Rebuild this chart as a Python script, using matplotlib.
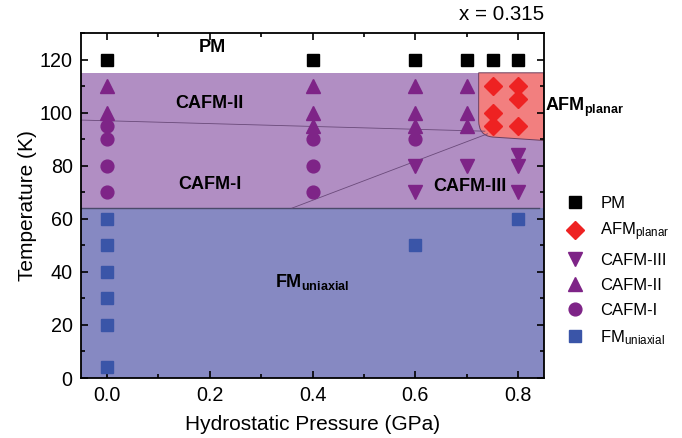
import matplotlib
matplotlib.use("Agg")
import matplotlib.pyplot as plt
from matplotlib.path import Path
from matplotlib.patches import PathPatch
from matplotlib.ticker import MultipleLocator

plt.rcParams['font.family'] = ['Liberation Sans', 'DejaVu Sans']
plt.rcParams['mathtext.fontset'] = 'custom'
plt.rcParams['mathtext.rm'] = 'Liberation Sans'
plt.rcParams['mathtext.bf'] = 'Liberation Sans:bold'
plt.rcParams['mathtext.it'] = 'Liberation Sans:italic'

# ---- data ----
pm_p = [0.0, 0.4, 0.6, 0.7, 0.75, 0.8]
pm_t = [120, 120, 120, 120, 120, 120]

afm_p = [0.75, 0.75, 0.75, 0.8, 0.8, 0.8]
afm_t = [110, 100, 95, 110, 105, 95]

cafm3_p = [0.6, 0.6, 0.7, 0.8, 0.8, 0.8]
cafm3_t = [80, 70, 80, 84, 80, 70]

cafm2_p = [0.0, 0.0, 0.4, 0.4, 0.4, 0.6, 0.6, 0.6, 0.7, 0.7, 0.7]
cafm2_t = [110, 100, 110, 100, 95, 110, 100, 95, 110, 100, 95]

cafm1_p = [0.0, 0.0, 0.0, 0.0, 0.4, 0.4, 0.4, 0.6]
cafm1_t = [95, 90, 80, 70, 90, 80, 70, 90]

fm_p = [0.0, 0.0, 0.0, 0.0, 0.0, 0.0, 0.6, 0.8]
fm_t = [60, 50, 40, 30, 20, 4, 50, 60]

# phase boundaries (temperatures in K, pressures in GPa)
t_pm_boundary = 115
t_fm_boundary = 64
line_12_p = [-0.05, 0.735]
line_12_t = [97.2, 93.0]
line_13_p = [0.36, 0.74]
line_13_t = [64, 92]
afm_region_p = [0.723, 0.723, 0.723, 0.75, 0.85, 0.85]
afm_region_t = [115, 97, 91.3, 90.8, 89.5, 115]

# colors
c_purple_bg = '#B18EC3'
c_blue_bg = '#8689C2'
c_red_bg = '#F27F7F'
c_purple = '#7E2487'
c_blue = '#3A55A8'
c_red = '#EE2222'

fig = plt.figure(figsize=(6.82, 4.38), dpi=100)
ax = fig.add_axes([81/682, 1 - 378/438, (544-81)/682, (378-33)/438])

ax.set_xlim(-0.05, 0.85)
ax.set_ylim(0, 130)

ax.axhspan(0, t_fm_boundary, color=c_blue_bg, lw=0, zorder=0)
ax.axhspan(t_fm_boundary, t_pm_boundary, color=c_purple_bg, lw=0, zorder=0)

verts = list(zip(afm_region_p, afm_region_t)) + [(afm_region_p[0], afm_region_t[0])]
codes = [Path.MOVETO, Path.LINETO, Path.CURVE3, Path.CURVE3, Path.LINETO, Path.LINETO, Path.CLOSEPOLY]
ax.add_patch(PathPatch(Path(verts, codes), facecolor=c_red_bg, edgecolor='#6b4060', lw=0.7, zorder=1))

ax.plot([-0.05, 0.84], [t_fm_boundary, t_fm_boundary], color='#4a4a6a', lw=1.0, zorder=1)
ax.plot(line_12_p, line_12_t, color='#6a4a7a', lw=0.6, zorder=1)
ax.plot(line_13_p, line_13_t, color='#6a4a7a', lw=0.6, zorder=1)

ax.plot(pm_p, pm_t, 's', color='black', ms=8.6, ls='none', label='PM', zorder=3)
ax.plot(afm_p, afm_t, 'D', color=c_red, ms=9.3, ls='none', label=r'AFM$_{\mathrm{planar}}$', zorder=3)
ax.plot(cafm3_p, cafm3_t, 'v', color=c_purple, ms=10.5, ls='none', label='CAFM-III', zorder=3)
ax.plot(cafm2_p, cafm2_t, '^', color=c_purple, ms=10.5, ls='none', label='CAFM-II', zorder=3)
ax.plot(cafm1_p, cafm1_t, 'o', color=c_purple, ms=9.2, ls='none', label='CAFM-I', zorder=3)
ax.plot(fm_p, fm_t, 's', color=c_blue, ms=8.6, ls='none', label=r'FM$_{\mathrm{uniaxial}}$', zorder=3)

# region labels
kw = dict(fontsize=13, fontweight='bold', ha='center', va='center', zorder=4)
ax.text(0.205, 124.6, 'PM', **kw)
ax.text(0.2, 103.4, 'CAFM-II', **kw)
ax.text(0.2, 73, 'CAFM-I', **kw)
ax.text(0.705, 72, 'CAFM-III', **kw)
ax.text(0.4, 36, r'$\mathbf{FM}_{\mathbf{uniaxial}}$', fontsize=13, ha='center', va='center', zorder=4)
ax.text(0.852, 102, r'$\mathbf{AFM}_{\mathbf{planar}}$', fontsize=13, ha='left', va='center', zorder=4, clip_on=False)

ax.text(1.0, 1.025, 'x = 0.315', transform=ax.transAxes, ha='right', va='bottom', fontsize=14.8)

ax.xaxis.set_major_locator(MultipleLocator(0.2))
ax.xaxis.set_minor_locator(MultipleLocator(0.1))
ax.yaxis.set_major_locator(MultipleLocator(20))
ax.yaxis.set_minor_locator(MultipleLocator(10))
ax.tick_params(which='both', direction='in', top=True, right=True, width=1.2)
ax.tick_params(which='major', length=5, labelsize=14.2, pad=6)
ax.tick_params(which='minor', length=3)
ax.set_xticks([0.0, 0.2, 0.4, 0.6, 0.8])
ax.set_xticklabels(['0.0', '0.2', '0.4', '0.6', '0.8'])
for s in ax.spines.values():
    s.set_linewidth(1.3)

ax.set_xlabel('Hydrostatic Pressure (GPa)', fontsize=15, labelpad=7)
ax.set_ylabel('Temperature (K)', fontsize=15, labelpad=2)

fig.legend(loc='upper left', bbox_to_anchor=(552/682, 1 - 189/438), frameon=False,
           fontsize=12, labelspacing=0.6, handletextpad=0.5, borderaxespad=0, numpoints=1)

fig.savefig('out.png', dpi=100)
